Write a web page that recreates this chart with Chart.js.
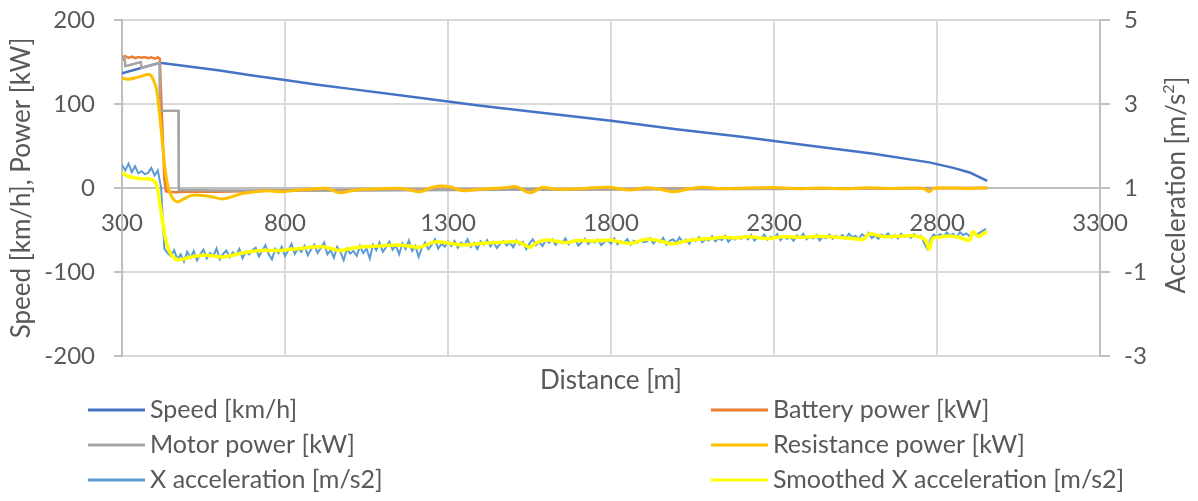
<!DOCTYPE html>
<html>
<head>
<meta charset="utf-8">
<script src="https://cdn.jsdelivr.net/npm/chart.js@4.4.0/dist/chart.umd.min.js"></script>
<style>
  body { margin: 0; background: #fff; }
  #wrap { width: 1198px; height: 501px; }
</style>
</head>
<body>
<div id="wrap"><canvas id="myChart"></canvas></div>
<script>
// axis ticks
const distTicks = [300, 800, 1300, 1800, 2300, 2800, 3300];
const leftTicks = [-200, -100, 0, 100, 200];
const rightTicks = [-3, -1, 1, 3, 5];

// speed [km/h]
const speedAt = [300, 416, 500, 600, 700, 800, 900, 1000, 1200, 1400, 1600, 1800, 2000, 2200, 2400, 2600, 2776, 2850, 2900, 2954];
const speedKmh = [136.5, 149, 145, 140, 134, 128.5, 123, 118, 108, 98, 89, 80, 70, 61, 51, 41, 30.5, 24, 18.5, 8.5];

// battery power [kW]
const batteryAt = [300, 305, 310, 320, 330, 340, 350, 360, 370, 380, 390, 400, 410, 416, 420, 425, 430, 435, 460, 500, 600, 700, 800, 900, 1000, 1200, 1400, 1600, 1800, 2000, 2200, 2400, 2600, 2800, 2954];
const batteryKw = [158, 154, 157, 155, 156.5, 154.5, 156, 155, 156, 154.5, 155.5, 154, 155.5, 154, 110, 60, 10, -4, -5, -4.5, -4.5, -3.5, -3, -3, -2.5, -2, -2, -1.5, -1.5, -1, -1, -0.5, -0.5, 0, 0];

// motor power [kW]
const motorAt = [300, 308, 310, 358, 360, 415, 416, 473, 474, 600, 1000, 1500, 2000, 2500, 2954];
const motorKw = [156, 156, 145, 150, 143, 149, 92, 92, -2.5, -3, -3, -2, -1.5, -1, 0];

// resistance power [kW]
const resistAt = [300, 318, 350, 383, 395, 406, 416, 427, 437, 452, 470, 490, 510, 529, 570, 610, 640, 672, 710, 743, 794, 840, 876, 927, 968, 1000, 1039, 1090, 1142, 1180, 1213, 1245, 1275, 1305, 1345, 1400, 1448, 1480, 1510, 1550, 1590, 1612, 1663, 1720, 1795, 1857, 1908, 1950, 1995, 2040, 2081, 2130, 2184, 2250, 2316, 2380, 2450, 2520, 2580, 2650, 2720, 2760, 2776, 2790, 2850, 2900, 2954];
const resistKw = [131, 129.4, 132, 135, 130, 117, 85, 42, 9.5, -10, -16.5, -13, -9, -8.3, -10, -13, -10, -6.3, -4.5, -3.2, -4.4, -2.5, -1.6, -0.4, -5.6, -3.5, -1.6, -1, -0.4, -2, -4.4, 0, 2.4, 1.6, -3.2, -1.5, -0.4, 0.5, 1.6, -5.6, 0.8, -0.4, -1.6, -0.5, 0.8, -2.4, 0.4, -1.5, -4.4, -1, 0.8, -0.5, -0.4, 0.2, 0.4, -0.8, 0, -1, 0.3, -0.6, 0, -1, -4.4, -0.5, 0, -0.5, 0.4];

// x acceleration [m/s2], one sample every 10 m from 300 m
const accStart = 300, accStep = 10;
const accMs2 = [
  1.55, 1.42, 1.58, 1.38, 1.52, 1.35, 1.40, 1.33, 1.36, 1.48,
  1.30, 1.42, 1.00, -0.45, -0.55, -0.62, -0.48, -0.70, -0.58, -0.75,
  -0.52, -0.66, -0.50, -0.72, -0.58, -0.47, -0.68, -0.55, -0.62, -0.44,
  -0.70, -0.57, -0.49, -0.65, -0.53, -0.60, -0.45, -0.67, -0.52, -0.58,
  -0.48, -0.42, -0.63, -0.50, -0.36, -0.58, -0.70, -0.45, -0.55, -0.40,
  -0.62, -0.48, -0.33, -0.57, -0.44, -0.52, -0.38, -0.60, -0.46, -0.35,
  -0.55, -0.43, -0.30, -0.58, -0.48, -0.66, -0.40, -0.52, -0.72, -0.45,
  -0.56, -0.50, -0.62, -0.38, -0.55, -0.44, -0.68, -0.35, -0.48, -0.30,
  -0.52, -0.41, -0.28, -0.47, -0.36, -0.58, -0.32, -0.45, -0.25, -0.50,
  -0.38, -0.64, -0.42, -0.30, -0.46, -0.35, -0.22, -0.44, -0.33, -0.40,
  -0.28, -0.38, -0.26, -0.42, -0.30, -0.36, -0.22, -0.40, -0.31, -0.45,
  -0.27, -0.35, -0.24, -0.39, -0.29, -0.43, -0.33, -0.26, -0.37, -0.30,
  -0.41, -0.25, -0.34, -0.28, -0.46, -0.32, -0.22, -0.36, -0.29, -0.38,
  -0.24, -0.30, -0.22, -0.35, -0.26, -0.31, -0.20, -0.34, -0.27, -0.24,
  -0.37, -0.29, -0.21, -0.33, -0.26, -0.30, -0.23, -0.36, -0.28, -0.25,
  -0.32, -0.20, -0.34, -0.27, -0.30, -0.22, -0.35, -0.26, -0.31, -0.24,
  -0.29, -0.27, -0.20, -0.32, -0.24, -0.29, -0.19, -0.35, -0.26, -0.22,
  -0.30, -0.18, -0.28, -0.23, -0.33, -0.21, -0.26, -0.17, -0.29, -0.22,
  -0.25, -0.15, -0.27, -0.20, -0.24, -0.14, -0.28, -0.19, -0.23, -0.16,
  -0.21, -0.15, -0.22, -0.12, -0.25, -0.17, -0.20, -0.11, -0.23, -0.16,
  -0.19, -0.10, -0.24, -0.14, -0.21, -0.17, -0.26, -0.13, -0.18, -0.09,
  -0.22, -0.15, -0.20, -0.12, -0.25, -0.16, -0.19, -0.11, -0.21, -0.14,
  -0.18, -0.12, -0.20, -0.09, -0.17, -0.14, -0.22, -0.10, -0.16, -0.07,
  -0.19, -0.13, -0.21, -0.11, -0.15, -0.08, -0.18, -0.12, -0.20, -0.09,
  -0.16, -0.13, -0.19, -0.10, -0.17, -0.14, -0.30, -0.45, -0.22, -0.11,
  -0.15, -0.10, -0.16, -0.06, -0.13, -0.09, -0.18, -0.05, -0.12, -0.08,
  -0.15, -0.04, -0.11, -0.07, -0.02, 0.03
];

// smoothed x acceleration [m/s2]
const smoothAt = [300, 320, 345, 370, 390, 405, 416, 427, 437, 452, 473, 508, 549, 580, 610, 640, 672, 710, 743, 780, 815, 850, 876, 917, 945, 968, 1000, 1039, 1090, 1142, 1180, 1213, 1240, 1264, 1300, 1345, 1400, 1448, 1510, 1530, 1550, 1570, 1590, 1612, 1640, 1663, 1700, 1750, 1795, 1857, 1908, 1950, 1990, 2030, 2071, 2110, 2142, 2180, 2224, 2260, 2286, 2330, 2387, 2440, 2490, 2540, 2575, 2590, 2640, 2694, 2740, 2765, 2776, 2787, 2810, 2840, 2870, 2899, 2910, 2925, 2940, 2954];
const smoothMs2 = [1.36, 1.28, 1.23, 1.22, 1.20, 1.10, 0.64, 0.08, -0.32, -0.60, -0.71, -0.65, -0.60, -0.62, -0.64, -0.60, -0.54, -0.50, -0.48, -0.49, -0.46, -0.44, -0.41, -0.40, -0.45, -0.49, -0.44, -0.40, -0.38, -0.36, -0.38, -0.41, -0.33, -0.28, -0.31, -0.36, -0.32, -0.30, -0.28, -0.33, -0.41, -0.31, -0.25, -0.24, -0.28, -0.30, -0.25, -0.26, -0.24, -0.32, -0.22, -0.26, -0.33, -0.26, -0.22, -0.20, -0.17, -0.19, -0.16, -0.19, -0.20, -0.16, -0.17, -0.15, -0.17, -0.20, -0.22, -0.10, -0.16, -0.14, -0.15, -0.25, -0.46, -0.20, -0.17, -0.14, -0.18, -0.24, -0.04, -0.15, -0.10, -0.04];

var textColor = '#595959';
var fontFamily = 'Lato, "Open Sans", sans-serif';

function pairs(xs, ys) {
    return xs.map(function (x, i) { return { x: x, y: ys[i] }; });
}
var accPoints = accMs2.map(function (v, i) { return { x: accStart + i * accStep, y: v }; });

// keep the plot box where the reference has it
function noPad(s) {
    s.paddingTop = 0;
    s.paddingBottom = 0;
    s.paddingLeft = 0;
    s.paddingRight = 0;
}

// titles under the plot + two column legend
var extras = {
    id: 'extras',
    afterDraw: function (chart) {
        var ctx = chart.ctx;
        var area = chart.chartArea;
        ctx.save();
        ctx.fillStyle = textColor;
        ctx.font = '26px ' + fontFamily;
        ctx.textBaseline = 'middle';
        ctx.textAlign = 'center';
        ctx.fillText('Distance [m]', (area.left + area.right) / 2, 381);

        // right axis title, reads bottom to top
        ctx.save();
        ctx.translate(1177, 185);
        ctx.rotate(-Math.PI / 2);
        ctx.textAlign = 'left';
        var a = 'Acceleration [m/s', b = '2', c = ']';
        ctx.font = '26px ' + fontFamily;
        var wa = ctx.measureText(a).width, wc = ctx.measureText(c).width;
        ctx.font = '16px ' + fontFamily;
        var wb = ctx.measureText(b).width;
        var x0 = -(wa + wb + wc) / 2;
        ctx.font = '26px ' + fontFamily;
        ctx.fillText(a, x0, 0);
        ctx.font = '16px ' + fontFamily;
        ctx.fillText(b, x0 + wa, -8);
        ctx.font = '26px ' + fontFamily;
        ctx.fillText(c, x0 + wa + wb, 0);
        ctx.restore();

        // legend
        var colX = [88, 711];
        ctx.font = '25px ' + fontFamily;
        ctx.textAlign = 'left';
        chart.data.datasets.forEach(function (ds, i) {
            var x = colX[i % 2];
            var y = 410 + Math.floor(i / 2) * 35;
            ctx.strokeStyle = ds.borderColor;
            ctx.lineWidth = 3;
            ctx.beginPath();
            ctx.moveTo(x, y);
            ctx.lineTo(x + 57, y);
            ctx.stroke();
            ctx.fillText(ds.label, x + 62, y);
        });
        ctx.restore();
    }
};

var ctx = document.getElementById('myChart').getContext('2d');
var myChart = new Chart(ctx, {
    type: 'line',
    data: {
        datasets: [{
            label: 'Speed [km/h]',
            data: pairs(speedAt, speedKmh),
            borderColor: '#4472C4',
            borderWidth: 2.5,
            yAxisID: 'y',
            order: 5
        }, {
            label: 'Battery power [kW]',
            data: pairs(batteryAt, batteryKw),
            borderColor: '#ED7D31',
            borderWidth: 2.5,
            yAxisID: 'y',
            order: 4
        }, {
            label: 'Motor power [kW]',
            data: pairs(motorAt, motorKw),
            borderColor: '#A5A5A5',
            borderWidth: 2.5,
            yAxisID: 'y',
            order: 3
        }, {
            label: 'Resistance power [kW]',
            data: pairs(resistAt, resistKw),
            borderColor: '#FFC000',
            borderWidth: 3,
            tension: 0.4,
            yAxisID: 'y',
            order: 2
        }, {
            label: 'X acceleration [m/s2]',
            data: accPoints,
            borderColor: '#5B9BD5',
            borderWidth: 2,
            yAxisID: 'y1',
            order: 1
        }, {
            label: 'Smoothed X acceleration [m/s2]',
            data: pairs(smoothAt, smoothMs2),
            borderColor: '#FFFF00',
            borderWidth: 3.5,
            tension: 0.4,
            yAxisID: 'y1',
            order: 0
        }]
    },
    options: {
        responsive: true,
        maintainAspectRatio: false,
        animation: false,
        layout: { padding: { top: 20, bottom: 145, left: 0, right: 0 } },
        elements: { point: { radius: 0 }, line: { fill: false } },
        plugins: { legend: { display: false }, tooltip: { enabled: false } },
        scales: {
            x: {
                type: 'linear',
                position: { y: 0 },
                min: 300,
                max: 3300,
                afterBuildTicks: function (s) { s.ticks = distTicks.map(function (v) { return { value: v }; }); },
                afterFit: function (s) { noPad(s); s.height = 0; },
                ticks: {
                    color: textColor,
                    font: { family: fontFamily, size: 24 },
                    padding: 21,
                    maxRotation: 0,
                    autoSkip: false,
                    callback: function (v) { return String(v); }
                },
                grid: { color: '#d9d9d9', lineWidth: 2, drawTicks: false },
                border: { color: '#bfbfbf', width: 2 }
            },
            y: {
                position: 'left',
                min: -200,
                max: 200,
                afterBuildTicks: function (s) { s.ticks = leftTicks.map(function (v) { return { value: v }; }); },
                afterFit: function (s) { noPad(s); s.width = 122; },
                ticks: { color: textColor, font: { family: fontFamily, size: 24 }, padding: 19 },
                grid: { color: '#d9d9d9', lineWidth: 2, tickColor: '#bfbfbf', tickLength: 8 },
                border: { color: '#bfbfbf', width: 2 },
                title: {
                    display: true,
                    text: 'Speed [km/h], Power [kW]',
                    color: textColor,
                    font: { family: fontFamily, size: 26 },
                    padding: { top: 6, bottom: 0 }
                }
            },
            y1: {
                position: 'right',
                min: -3,
                max: 5,
                afterBuildTicks: function (s) { s.ticks = rightTicks.map(function (v) { return { value: v }; }); },
                afterFit: function (s) { noPad(s); s.width = 98; },
                ticks: { color: textColor, font: { family: fontFamily, size: 24 }, padding: 14 },
                grid: { drawOnChartArea: false, color: '#bfbfbf', lineWidth: 2, tickLength: 10 },
                border: { color: '#bfbfbf', width: 2 }
            }
        }
    },
    plugins: [extras]
});
</script>
</body>
</html>
